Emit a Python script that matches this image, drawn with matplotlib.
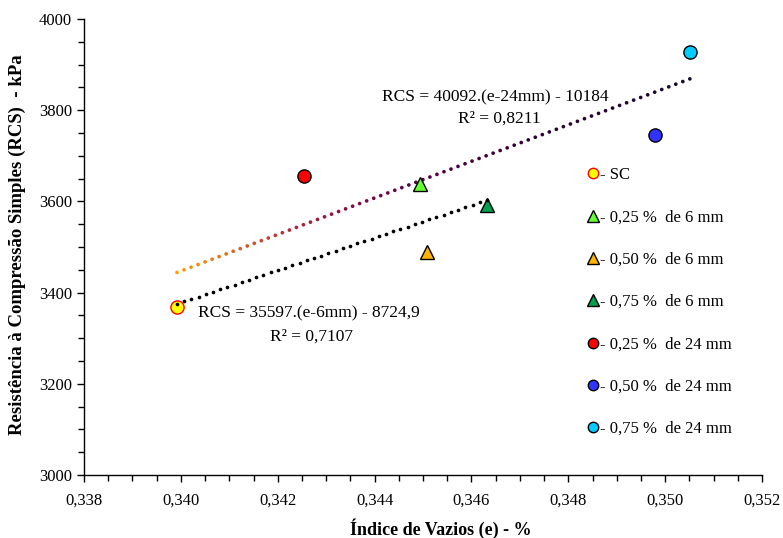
import numpy as np
import matplotlib
matplotlib.use("Agg")
import matplotlib.pyplot as plt
from matplotlib.colors import LinearSegmentedColormap
from matplotlib.lines import Line2D

plt.rcParams['font.family'] = ['Liberation Serif', 'DejaVu Serif']

# Measured points: void ratio (e) and unconfined compressive strength (kPa)
labels = ['- SC', '- 0,25 %  de 6 mm', '- 0,50 %  de 6 mm', '- 0,75 %  de 6 mm',
          '- 0,25 %  de 24 mm', '- 0,50 %  de 24 mm', '- 0,75 %  de 24 mm']
e_vals = [0.33992, 0.34494, 0.34508, 0.34632, 0.34254, 0.34979, 0.35051]
rcs_vals = [3369, 3638, 3488, 3592, 3655, 3745, 3928]
markers = ['o', '^', '^', '^', 'o', 'o', 'o']
faces = ['#FFFF00', '#66FF33', '#FFB300', '#00A050', '#FF0000', '#3333FF', '#00CCFF']
edges = ['#FF0000', 'black', 'black', 'black', 'black', 'black', 'black']

# Linear trend lines
fit24_slope, fit24_icpt, fit24_range = 40092, -10184, (0.33992, 0.35051)
fit6_slope, fit6_icpt, fit6_range = 35597, -8724.9, (0.33992, 0.34632)

x_ticks = [0.338, 0.340, 0.342, 0.344, 0.346, 0.348, 0.350, 0.352]
y_ticks = [3000, 3200, 3400, 3600, 3800, 4000]

fig = plt.figure(figsize=(7.83, 5.38), dpi=100)
ax = fig.add_axes([84 / 783, 63 / 538, 678 / 783, 456 / 538])
ax.set_xlim(0.338, 0.352)
ax.set_ylim(3000, 4000)

# trend line for the 24 mm fibres, with a colour gradient along its length
fig.canvas.draw()
xa = np.array(fit24_range)
ya = fit24_slope * xa + fit24_icpt
p = ax.transData.transform(np.column_stack([xa, ya]))
n24 = int(np.hypot(*(p[1] - p[0])) / 7.5) + 1
xs = np.linspace(*fit24_range, n24)
ys = fit24_slope * xs + fit24_icpt
grad = LinearSegmentedColormap.from_list('trend', [
    (0.0, '#FFA000'), (0.06, '#F08010'), (0.14, '#D05525'), (0.22, '#B02A35'),
    (0.32, '#8A1045'), (0.45, '#5E0045'), (0.7, '#300035'), (1.0, '#150A30')])
ax.scatter(xs, ys, s=7, c=np.linspace(0, 1, n24), cmap=grad, linewidths=0, zorder=2)

# trend line for the 6 mm fibres
xb = np.array(fit6_range)
yb = fit6_slope * xb + fit6_icpt
p = ax.transData.transform(np.column_stack([xb, yb]))
n6 = int(np.hypot(*(p[1] - p[0])) / 7.5) + 1
xs6 = np.linspace(*fit6_range, n6)
ax.scatter(xs6, fit6_slope * xs6 + fit6_icpt, s=7, c='black', linewidths=0, zorder=4)

handles = []
for x, y, m, fc, ec, lab in zip(e_vals, rcs_vals, markers, faces, edges, labels):
    ms = 9.5 if m == 'o' else 10.5
    ax.plot([x], [y], marker=m, ms=ms, mfc=fc, mec=ec, mew=1.0, ls='none', zorder=3)
    handles.append(Line2D([], [], marker=m, ms=7.5 if m == 'o' else 8, mfc=fc, mec=ec,
                          mew=1.0, ls='none', label=lab))

ax.legend(handles=handles, loc='upper left', bbox_to_anchor=(0.733, 0.69),
          frameon=False, fontsize=12, labelspacing=1.58, handlelength=0.6,
          handletextpad=0.15, borderaxespad=0)

# equations
ax.text(0.606, 0.828, 'RCS = 40092.(e-24mm) - 10184', transform=ax.transAxes,
        ha='center', va='center', fontsize=12.5)
ax.text(0.612, 0.782, 'R² = 0,8211', transform=ax.transAxes,
        ha='center', va='center', fontsize=12.5)
ax.text(0.332, 0.355, 'RCS = 35597.(e-6mm) - 8724,9', transform=ax.transAxes,
        ha='center', va='center', fontsize=12.5)
ax.text(0.335, 0.304, 'R² = 0,7107', transform=ax.transAxes,
        ha='center', va='center', fontsize=12.5)

ax.set_xticks(x_ticks)
ax.set_xticklabels([f'{v:.3f}'.replace('.', ',') for v in x_ticks])
ax.set_yticks(y_ticks)
ax.set_yticklabels([str(v) for v in y_ticks])
ax.set_xticks(np.arange(0.338, 0.35201, 0.0005), minor=True)
ax.set_yticks(np.arange(3000, 4001, 50), minor=True)
ax.tick_params(which='both', direction='out', labelsize=12, colors='black')
ax.tick_params(which='major', length=5, width=1)
ax.tick_params(which='minor', length=4, width=1)
ax.tick_params(axis='x', pad=8)

for s in ['top', 'right']:
    ax.spines[s].set_visible(False)
for s in ['left', 'bottom']:
    ax.spines[s].set_linewidth(1.0)

# axis titles
fig.text(441 / 783, 1 - 529 / 538, 'Índice de Vazios (e) - %', fontsize=13,
         fontweight='bold', ha='center', va='center')
fig.text(17 / 783, 1 - 245 / 538, 'Resistência à Compressão Simples (RCS)  - kPa',
         fontsize=13.5, fontweight='bold', ha='center', va='center', rotation=90)

fig.savefig('out.png', dpi=100)
